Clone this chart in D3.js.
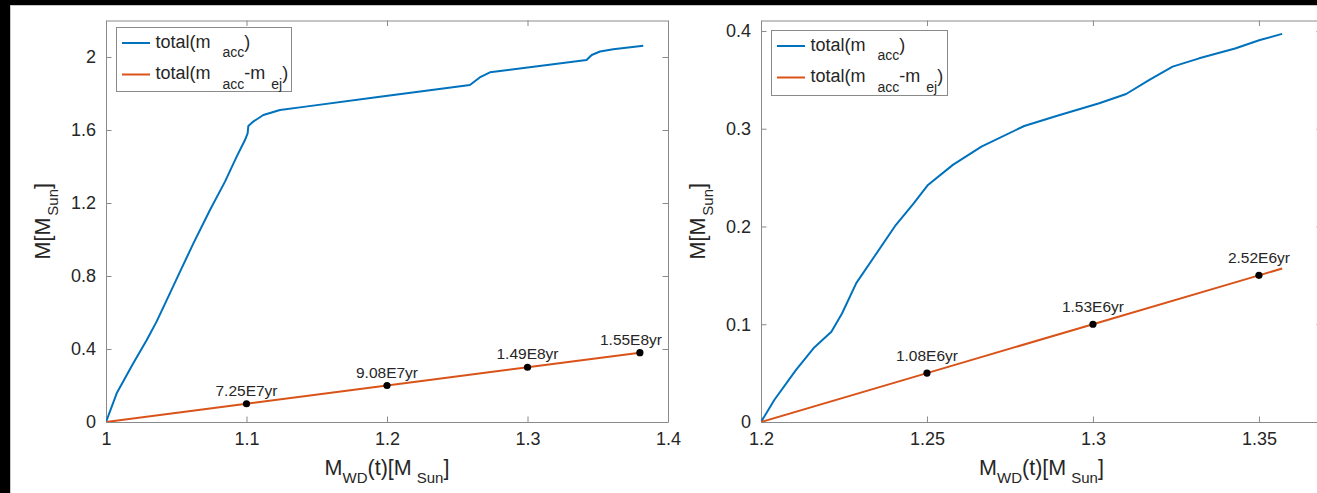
<!DOCTYPE html>
<html>
<head>
<meta charset="utf-8">
<script src="https://cdn.jsdelivr.net/npm/d3@7"></script>
<style>
  html, body { margin: 0; padding: 0; background: #fff; }
  svg { display: block; }
  text { font-family: "Liberation Sans", Arial, Helvetica, sans-serif; fill: #262626; }
</style>
</head>
<body>
<svg id="fig" width="1317" height="493"></svg>
<script>
// ---- Left panel: accretion from 1.0 Msun ----
const leftAccX = [1.000, 1.0076, 1.0194, 1.029, 1.036, 1.0432, 1.0527, 1.0622, 1.074, 1.0847, 1.093, 1.0989, 1.1008, 1.1013, 1.1048, 1.112, 1.1238, 1.138, 1.195, 1.259, 1.266, 1.2733, 1.342, 1.3457, 1.3516, 1.361, 1.3824];
const leftAccY = [0, 0.157, 0.3215, 0.449, 0.55, 0.668, 0.8237, 0.979, 1.1616, 1.317, 1.454, 1.545, 1.582, 1.622, 1.646, 1.682, 1.71, 1.724, 1.782, 1.8466, 1.888, 1.916, 1.9836, 2.011, 2.03, 2.042, 2.062];
const leftNetX = [1.0, 1.1, 1.2, 1.3, 1.38];
const leftNetY = [0, 0.1, 0.2, 0.3, 0.38];
const leftMarkX = [1.1, 1.2, 1.3, 1.38];
const leftMarkY = [0.1, 0.2, 0.3, 0.38];
const leftMarkLabels = ["7.25E7yr", "9.08E7yr", "1.49E8yr", "1.55E8yr"];
const leftXTicks = [1, 1.1, 1.2, 1.3, 1.4];
const leftXTickLabels = ["1", "1.1", "1.2", "1.3", "1.4"];
const leftYTicks = [0, 0.4, 0.8, 1.2, 1.6, 2];
const leftYTickLabels = ["0", "0.4", "0.8", "1.2", "1.6", "2"];

// ---- Right panel: accretion from 1.2 Msun ----
const rightAccX = [1.2, 1.204, 1.2105, 1.2158, 1.2212, 1.2244, 1.2287, 1.2341, 1.2406, 1.246, 1.2503, 1.2578, 1.2664, 1.2793, 1.289, 1.3019, 1.31, 1.317, 1.324, 1.332, 1.3428, 1.3503, 1.357];
const rightAccY = [0, 0.0225, 0.053, 0.0754, 0.0924, 0.111, 0.142, 0.169, 0.2015, 0.2237, 0.2425, 0.263, 0.2817, 0.3028, 0.313, 0.326, 0.3355, 0.35, 0.3635, 0.372, 0.382, 0.3908, 0.397];
const rightNetX = [1.2, 1.25, 1.3, 1.35, 1.357];
const rightNetY = [0, 0.05, 0.1, 0.15, 0.157];
const rightMarkX = [1.25, 1.3, 1.35];
const rightMarkY = [0.05, 0.1, 0.15];
const rightMarkLabels = ["1.08E6yr", "1.53E6yr", "2.52E6yr"];
const rightXTicks = [1.2, 1.25, 1.3, 1.35];
const rightXTickLabels = ["1.2", "1.25", "1.3", "1.35"];
const rightYTicks = [0, 0.1, 0.2, 0.3, 0.4];
const rightYTickLabels = ["0", "0.1", "0.2", "0.3", "0.4"];

const BLUE = "#0072BD";
const ORANGE = "#D95319";
const AXIS = "#8a8a8a";

const svg = d3.select("#fig");
svg.append("rect").attr("width", 1317).attr("height", 493).attr("fill", "#fff");

const panels = [
  {
    id: "L", left: 106, right: 668, top: 20.5, bottom: 422,
    xDomain: [1, 1.4], yDomain: [0, 2.2],
    acc: [leftAccX, leftAccY], net: [leftNetX, leftNetY],
    marks: [leftMarkX, leftMarkY, leftMarkLabels], markGap: 8,
    xTicks: [leftXTicks, leftXTickLabels], yTicks: [leftYTicks, leftYTickLabels],
    legend: { dx: 10, dy: 6.5, w: 175, h: 64 }
  },
  {
    id: "R", left: 761, right: 1322, top: 20.5, bottom: 422,
    xDomain: [1.2, 1.369], yDomain: [0, 0.4107],
    acc: [rightAccX, rightAccY], net: [rightNetX, rightNetY],
    marks: [rightMarkX, rightMarkY, rightMarkLabels], markGap: 12,
    xTicks: [rightXTicks, rightXTickLabels], yTicks: [rightYTicks, rightYTickLabels],
    legend: { dx: 10, dy: 9.5, w: 176, h: 65 }
  }
];

const TICK = 5.5;

panels.forEach(p => {
  const x = d3.scaleLinear().domain(p.xDomain).range([p.left, p.right]);
  const y = d3.scaleLinear().domain(p.yDomain).range([p.bottom, p.top]);
  const g = svg.append("g");

  g.append("clipPath").attr("id", "clip" + p.id)
    .append("rect").attr("x", p.left).attr("y", p.top)
    .attr("width", p.right - p.left).attr("height", p.bottom - p.top);

  // axes with inward ticks on all four sides
  const fmtX = (d, i) => p.xTicks[1][i];
  const fmtY = (d, i) => p.yTicks[1][i];
  const styleAxis = sel => {
    sel.selectAll(".domain").attr("stroke", AXIS);
    sel.selectAll(".tick line").attr("stroke", AXIS);
    sel.selectAll(".tick text").attr("fill", "#262626")
      .style("font-family", '"Liberation Sans", Arial, sans-serif');
  };
  g.append("g").attr("transform", `translate(0,${p.bottom})`)
    .call(d3.axisBottom(x).tickValues(p.xTicks[0]).tickFormat(fmtX)
      .tickSizeInner(-TICK).tickSizeOuter(0).tickPadding(10))
    .call(styleAxis)
    .selectAll(".tick text").attr("font-size", 18);
  g.append("g").attr("transform", `translate(0,${p.top})`)
    .call(d3.axisTop(x).tickValues(p.xTicks[0]).tickFormat("")
      .tickSizeInner(-TICK).tickSizeOuter(0))
    .call(styleAxis);
  g.append("g").attr("transform", `translate(${p.left},0)`)
    .call(d3.axisLeft(y).tickValues(p.yTicks[0]).tickFormat(fmtY)
      .tickSizeInner(-TICK).tickSizeOuter(0).tickPadding(10))
    .call(styleAxis)
    .selectAll(".tick text").attr("font-size", 18);
  g.append("g").attr("transform", `translate(${p.right},0)`)
    .call(d3.axisRight(y).tickValues(p.yTicks[0]).tickFormat("")
      .tickSizeInner(-TICK).tickSizeOuter(0))
    .call(styleAxis);
  g.selectAll("g").attr("font-family", null);

  // series
  const line = d3.line().x(d => x(d[0])).y(d => y(d[1]));
  const plot = g.append("g").attr("clip-path", `url(#clip${p.id})`);
  plot.append("path").datum(d3.zip(p.acc[0], p.acc[1]))
    .attr("d", line).attr("fill", "none").attr("stroke", BLUE)
    .attr("stroke-width", 2).attr("stroke-linejoin", "round");
  plot.append("path").datum(d3.zip(p.net[0], p.net[1]))
    .attr("d", line).attr("fill", "none").attr("stroke", ORANGE)
    .attr("stroke-width", 2).attr("stroke-linejoin", "round");

  // time stamps along the retained-mass line
  const marks = d3.zip(p.marks[0], p.marks[1], p.marks[2]);
  g.selectAll(null).data(marks).join("circle")
    .attr("cx", d => x(d[0])).attr("cy", d => y(d[1])).attr("r", 3.6)
    .attr("fill", "#000");
  g.selectAll(null).data(marks).join("text")
    .attr("x", d => x(d[0])).attr("y", d => y(d[1]) - p.markGap)
    .attr("text-anchor", "middle").attr("font-size", 15.5)
    .attr("fill", "#000")
    .text(d => d[2])
    .each(function () {
      // keep a label inside the plot frame
      const b = this.getBBox();
      const limit = p.right - 6;
      if (b.x + b.width > limit) {
        d3.select(this).attr("x", +d3.select(this).attr("x") - (b.x + b.width - limit));
      }
    });

  // axis titles
  const xt = g.append("text").attr("x", (p.left + p.right) / 2).attr("y", p.bottom + 53)
    .attr("text-anchor", "middle").attr("font-size", 21.5);
  xt.append("tspan").text("M");
  xt.append("tspan").attr("font-size", 15).attr("dy", 8).text("WD");
  xt.append("tspan").attr("dy", -8).text("(t)[M");
  xt.append("tspan").attr("font-size", 15).attr("dy", 8).attr("dx", 5).text("Sun");
  xt.append("tspan").attr("dy", -8).text("]");

  const cy = (p.top + p.bottom) / 2;
  const yt = g.append("text")
    .attr("transform", `translate(${p.left - 56},${cy}) rotate(-90)`)
    .attr("text-anchor", "middle").attr("font-size", 21.5);
  yt.append("tspan").text("M[M");
  yt.append("tspan").attr("font-size", 15).attr("dy", 8).attr("dx", 2).text("Sun");
  yt.append("tspan").attr("dy", -8).text("]");

  // legend
  const lx = p.left + p.legend.dx, ly = p.top + p.legend.dy;
  const lg = g.append("g");
  lg.append("rect").attr("x", lx + 0.5).attr("y", ly + 0.5)
    .attr("width", p.legend.w).attr("height", p.legend.h)
    .attr("fill", "#fff").attr("stroke", AXIS);
  const entries = [
    { color: BLUE, parts: [["total(m", 0], ["acc", 1], [")", 0]] },
    { color: ORANGE, parts: [["total(m", 0], ["acc", 1], ["-m", 0], ["ej", 1], [")", 0]] }
  ];
  entries.forEach((e, i) => {
    const rowY = ly + 16 + i * 31.5;
    lg.append("line").attr("x1", lx + 6).attr("x2", lx + 34)
      .attr("y1", rowY).attr("y2", rowY)
      .attr("stroke", e.color).attr("stroke-width", 2);
    const t = lg.append("text").attr("x", lx + 39.5).attr("y", rowY + 4.5)
      .attr("font-size", 18);
    let sub = false;
    e.parts.forEach(([s, isSub]) => {
      const ts = t.append("tspan").text(s);
      if (isSub && !sub) { ts.attr("font-size", 14).attr("dy", 9.5).attr("dx", s === "acc" ? 12 : 6); sub = true; }
      else if (!isSub && sub) { ts.attr("dy", -9.5); sub = false; }
    });
  });
});

// figure frame
svg.append("rect").attr("x", 0).attr("y", 0).attr("width", 1317).attr("height", 5).attr("fill", "#000");
svg.append("rect").attr("x", 0).attr("y", 0).attr("width", 10).attr("height", 493).attr("fill", "#000");
svg.append("line").attr("x1", 10).attr("x2", 1317).attr("y1", 5.5).attr("y2", 5.5).attr("stroke", "#c8c8c8");
svg.append("line").attr("x1", 10.5).attr("x2", 10.5).attr("y1", 5).attr("y2", 493).attr("stroke", "#c8c8c8");
</script>
</body>
</html>
